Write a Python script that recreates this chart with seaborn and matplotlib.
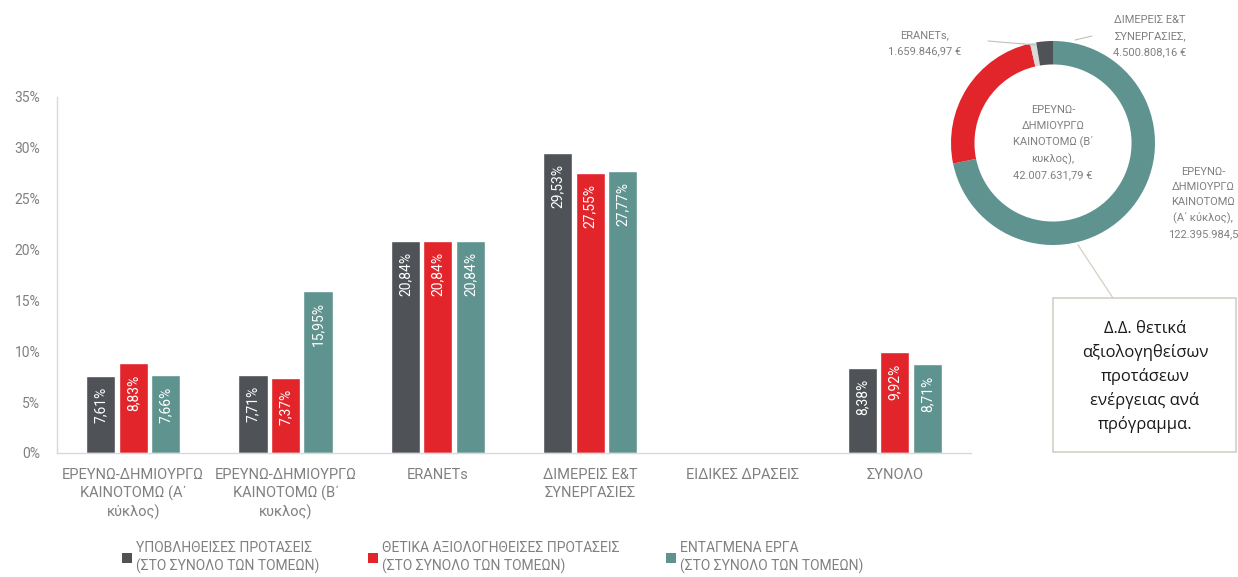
import matplotlib
matplotlib.use("Agg")
import matplotlib.pyplot as plt
import numpy as np
import pandas as pd
import seaborn as sns
from matplotlib.patches import Patch, Rectangle

# bar chart data (percent)
categories = [
    "ΕΡΕΥΝΩ-ΔΗΜΙΟΥΡΓΩ\nΚΑΙΝΟΤΟΜΩ (Α΄\nκύκλος)",
    "ΕΡΕΥΝΩ-ΔΗΜΙΟΥΡΓΩ\nΚΑΙΝΟΤΟΜΩ (Β΄\nκυκλος)",
    "ERANETs",
    "ΔΙΜΕΡΕΙΣ Ε&Τ\nΣΥΝΕΡΓΑΣΙΕΣ",
    "ΕΙΔΙΚΕΣ ΔΡΑΣΕΙΣ",
    "ΣΥΝΟΛΟ",
]
series = [
    "ΥΠΟΒΛΗΘΕΙΣΕΣ ΠΡΟΤΑΣΕΙΣ\n(ΣΤΟ ΣΥΝΟΛΟ ΤΩΝ ΤΟΜΕΩΝ)",
    "ΘΕΤΙΚΑ ΑΞΙΟΛΟΓΗΘΕΙΣΕΣ ΠΡΟΤΑΣΕΙΣ\n(ΣΤΟ ΣΥΝΟΛΟ ΤΩΝ ΤΟΜΕΩΝ)",
    "ΕΝΤΑΓΜΕΝΑ ΕΡΓΑ\n(ΣΤΟ ΣΥΝΟΛΟ ΤΩΝ ΤΟΜΕΩΝ)",
]
submitted = [7.61, 7.71, 20.84, 29.53, np.nan, 8.38]
positive = [8.83, 7.37, 20.84, 27.55, np.nan, 9.92]
funded = [7.66, 15.95, 20.84, 27.77, np.nan, 8.71]
colors = ["#4f5256", "#e2252b", "#5e938f"]

# donut data (EUR)
donut_labels = [
    "ΕΡΕΥΝΩ-\nΔΗΜΙΟΥΡΓΩ\nΚΑΙΝΟΤΟΜΩ\n(Α΄ κύκλος),\n122.395.984,5",
    "ΕΡΕΥΝΩ-\nΔΗΜΙΟΥΡΓΩ\nΚΑΙΝΟΤΟΜΩ (Β΄\nκυκλος),\n42.007.631,79 €",
    "ERANETs,\n1.659.846,97 €",
    "ΔΙΜΕΡΕΙΣ Ε&Τ\nΣΥΝΕΡΓΑΣΙΕΣ,\n4.500.808,16 €",
]
donut_values = [122395984.5, 42007631.79, 1659846.97, 4500808.16]
donut_colors = ["#5e938f", "#e2252b", "#d9d9d9", "#4f5256"]

sns.set_theme(style="white")
plt.rcParams["font.family"] = ["Roboto", "DejaVu Sans"]
GRAY = "#808080"
W, H = 1238, 577


def fx(px):
    return px / W


def fy(py):
    return 1 - py / H


df = pd.DataFrame({
    "cat": categories * 3,
    "series": [series[0]] * 6 + [series[1]] * 6 + [series[2]] * 6,
    "value": submitted + positive + funded,
})

fig = plt.figure(figsize=(12.38, 5.77), dpi=100)
ax = fig.add_axes([fx(57), fy(453), fx(971 - 57), (453 - 97) / H])

sns.barplot(
    data=df, x="cat", y="value", hue="series", hue_order=series,
    palette=colors, saturation=1, width=0.64, gap=0.1, legend=False, ax=ax,
)
ax.set_ylim(0, 35)
ax.set_xlim(-0.5, 5.5)
ax.set_yticks(range(0, 36, 5))
ax.set_yticklabels([f"{v}%" for v in range(0, 36, 5)], color=GRAY, fontsize=10)
ax.set_xlabel("")
ax.set_ylabel("")
ax.tick_params(axis="x", colors=GRAY, labelsize=10.5, pad=5)
ax.tick_params(axis="y", pad=6)
for lbl in ax.get_xticklabels():
    lbl.set_linespacing(1.3)
for s in ["top", "right"]:
    ax.spines[s].set_visible(False)
for s in ["left", "bottom"]:
    ax.spines[s].set_color("#d9d9d9")
    ax.spines[s].set_linewidth(1.0)

for cont in ax.containers:
    for bar in cont:
        h = bar.get_height()
        if np.isnan(h) or h == 0:
            continue
        ax.text(bar.get_x() + bar.get_width() / 2, h - 1.1,
                f"{h:.2f}%".replace(".", ","), rotation=90,
                ha="center", va="top", color="white", fontsize=10)

# legend, one entry per column like the reference
for i, xpos in enumerate([122, 368, 666]):
    leg = fig.legend([Patch(facecolor=colors[i], edgecolor="none")], [series[i]],
                     loc="upper left", bbox_to_anchor=(fx(xpos), fy(541)),
                     frameon=False, fontsize=10, handlelength=0.75, handleheight=0.75,
                     handletextpad=0.25, borderpad=0, borderaxespad=0,
                     labelcolor=GRAY, labelspacing=0)
    for t in leg.get_texts():
        t.set_linespacing(1.3)

# donut
R = 102
dax = fig.add_axes([fx(1053 - 1.25 * R), fy(143 + 1.25 * R), 2.5 * R / W, 2.5 * R / H])
dax.pie(donut_values, colors=donut_colors, startangle=90, counterclock=False,
        wedgeprops=dict(width=0.23, edgecolor="none"))
dax.set_xlim(-1.25, 1.25)
dax.set_ylim(-1.25, 1.25)
dax.text(0, 0, donut_labels[1], ha="center", va="center", color=GRAY,
         fontsize=8, linespacing=1.65)
fig.text(fx(1203), fy(203), donut_labels[0], ha="center", va="center",
         color=GRAY, fontsize=8, linespacing=1.65)
fig.text(fx(925), fy(43), donut_labels[2], ha="center", va="center",
         color=GRAY, fontsize=8, linespacing=1.75)
fig.text(fx(1150), fy(36), donut_labels[3], ha="center", va="center",
         color=GRAY, fontsize=8, linespacing=1.75)
fig.add_artist(plt.Line2D([fx(988), fx(1036)], [fy(41), fy(45)], color="#bfbfbf", lw=0.8))
fig.add_artist(plt.Line2D([fx(1075), fx(1092)], [fy(40), fy(36)], color="#bfbfbf", lw=0.8))

# callout box
fig.add_artist(plt.Line2D([fx(1078), fx(1113)], [fy(245), fy(298)], color="#d6cfc2", lw=0.9))
fig.add_artist(Rectangle((fx(1053), fy(452)), fx(1236) - fx(1053), fy(298) - fy(452),
                         transform=fig.transFigure, facecolor="white",
                         edgecolor="#d6cfc2", lw=1.2))
fig.text(fx(1145), fy(377),
         "Δ.Δ. θετικά\nαξιολογηθείσων\nπροτάσεων\nενέργειας ανά\nπρόγραμμα.",
         ha="center", va="center", fontsize=12, family=["Open Sans", "DejaVu Sans"],
         color="#1a1a1a", linespacing=1.55)

fig.savefig("out.png", dpi=100)
